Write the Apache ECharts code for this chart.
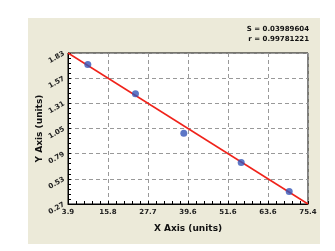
<!DOCTYPE html>
<html><head><meta charset="utf-8">
<script src="https://cdn.jsdelivr.net/npm/echarts@6/dist/echarts.min.js"></script>
<style>html,body{margin:0;padding:0;background:#fff}#c{width:335px;height:251px}</style>
</head><body><div id="c"></div>
<script>
const xTickLabels = ['3.9','15.8','27.7','39.6','51.6','63.6','75.4'];
const yTickLabels = ['0.27','0.53','0.79','1.05','1.31','1.57','1.83'];
const pointsX = [9.8, 24.0, 38.4, 55.5, 69.8];
const pointsY = [1.71, 1.41, 1.00, 0.70, 0.40];
const fitX = [3.9, 75.4];
const fitY = [1.83, 0.27];
const statS = '0.03989604';
const statR = '0.99781221';

const xMin = 3.9, xMax = 75.4, yMin = 0.27, yMax = 1.83;
const xInt = (xMax - xMin) / 6, yInt = 0.26;
function nearestLabel(v, lo, step, labels){
  const i = Math.round((v - lo) / step);
  return (i >= 0 && i < labels.length && Math.abs(v - (lo + i*step)) < step*0.01) ? labels[i] : '';
}
const chart = echarts.init(document.getElementById('c'), null, {renderer:'canvas'});
chart.setOption({
  animation:false,
  backgroundColor:'#fff',
  graphic:[
    {type:'rect', left:28, top:18, shape:{width:292, height:226}, style:{fill:'#ECEAD9'}, z:-10},
    {type:'rect', left:68, top:53, shape:{width:240, height:151}, style:{fill:'#fff'}, z:-9},
    {type:'text', right:26, top:26, style:{text:'S = ' + statS, font:'bold 7px "DejaVu Sans"', fill:'#111', align:'right'}},
    {type:'text', right:26, top:36, style:{text:'r = ' + statR, font:'bold 7px "DejaVu Sans"', fill:'#111', align:'right'}}
  ],
  grid:{left:68, top:53, right:27, bottom:47, show:true, borderColor:'#000', borderWidth:1},
  xAxis:{
    type:'value', min:xMin, max:xMax, interval:xInt,
    name:'X Axis (units)', nameLocation:'middle', nameGap:20,
    nameTextStyle:{fontFamily:'DejaVu Sans', fontWeight:'bold', fontSize:9, color:'#111'},
    axisLine:{lineStyle:{color:'#000', width:1}},
    axisTick:{inside:true, length:3, lineStyle:{color:'#000'}},
    minorTick:{show:true, splitNumber:5, length:3, lineStyle:{color:'#000'}},
    axisLabel:{fontFamily:'DejaVu Sans', fontWeight:'bold', fontSize:7, color:'#222', margin:5,
      formatter:v=>nearestLabel(v, xMin, xInt, xTickLabels), showMinLabel:true, showMaxLabel:true},
    splitLine:{show:true, lineStyle:{color:'#999', type:[4,3], width:1}}
  },
  yAxis:{
    type:'value', min:yMin, max:yMax, interval:yInt,
    name:'Y Axis (units)', nameLocation:'middle', nameGap:24, nameMoveOverlap:false,
    nameTextStyle:{fontFamily:'DejaVu Sans', fontWeight:'bold', fontSize:9, color:'#111'},
    axisLine:{show:true, lineStyle:{color:'#000', width:1}},
    axisTick:{show:true, inside:true, length:3, lineStyle:{color:'#000'}},
    minorTick:{show:true, splitNumber:5, length:3, lineStyle:{color:'#000'}},
    axisLabel:{fontFamily:'DejaVu Sans', fontWeight:'bold', fontSize:7, color:'#222', margin:4, rotate:30,
      formatter:v=>nearestLabel(v, yMin, yInt, yTickLabels), showMinLabel:true, showMaxLabel:true},
    splitLine:{show:true, lineStyle:{color:'#999', type:[4,3], width:1}}
  },
  series:[
    {type:'line', data:fitX.map((x,i)=>[x, fitY[i]]), symbol:'none', lineStyle:{color:'#F0221A', width:1.5}, z:3},
    {type:'scatter', data:pointsX.map((x,i)=>[x, pointsY[i]]), symbolSize:7, itemStyle:{color:'#3555B8'}, z:4}
  ]
});
</script></body></html>
